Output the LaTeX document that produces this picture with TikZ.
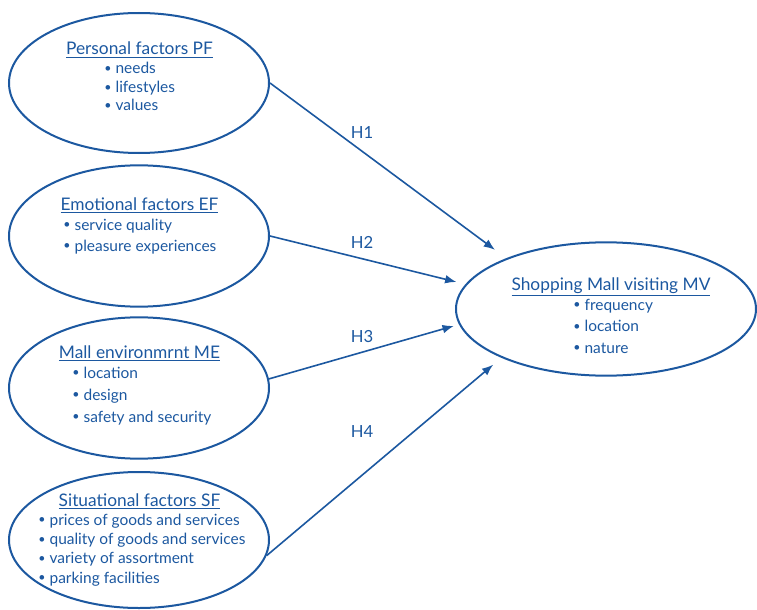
\documentclass[tikz,border=0pt]{standalone}
\usepackage{fontspec}
\setmainfont{Lato}
\usepackage{tikz}
\usetikzlibrary{shapes.geometric,arrows.meta}

\definecolor{mallblue}{RGB}{28,88,160}
\newcommand{\bul}{\makebox[8.5pt][l]{\raisebox{1pt}{\scalebox{0.8}{•}}}}

\begin{document}
\begin{tikzpicture}[x=0.75pt,y=-0.75pt,
    factor/.style={ellipse, draw=mallblue, line width=1.5pt, minimum width=195pt},
    title/.style={text=mallblue, inner sep=0pt, anchor=base, font=\fontsize{13}{15}\selectfont},
    items/.style={text=mallblue, inner sep=0pt, anchor=base west, align=left},
    hyp/.style={-{Latex[length=8.5pt,width=6.5pt]}, draw=mallblue, line width=1.2pt},
    hlabel/.style={text=mallblue, font=\fontsize{12.5}{14}\selectfont}]

    \useasboundingbox (0,0) rectangle (757,610);

	%% Draw ovals
    \node[factor, minimum height=105pt] (pf) at (139,83)  {};
    \node[factor, minimum height=106pt] (ef) at (139,236) {};
    \node[factor, minimum height=106pt] (me) at (139,388) {};
    \node[factor, minimum height=102pt] (sf) at (139,540) {};
    \node[factor, minimum width=225pt, minimum height=100pt] (mv) at (606,309) {};

	%% Draw text in ovals (items anchored at the baseline of their last line)
    \node[title] (pftitle) at (139.5,55)  {\underline{Personal factors PF}};
    \node[items, font=\fontsize{11.6}{13.9}\selectfont] (pfitems) at (104,111)
        {\bul needs\\ \bul lifestyles\\ \bul values};

    \node[title] (eftitle) at (139.5,210) {\underline{Emotional factors EF}};
    \node[items, font=\fontsize{11.6}{15.75}\selectfont] (efitems) at (63,251)
        {\bul service quality\\ \bul pleasure experiences};

    \node[title] (metitle) at (139.5,358) {\underline{Mall environmrnt ME}};
    \node[items, font=\fontsize{11.6}{16.5}\selectfont] (meitems) at (72,422)
        {\bul location\\ \bul design\\ \bul safety and security};

    \node[title] (sftitle) at (139.5,506) {\underline{Situational factors SF}};
    \node[items, font=\fontsize{11.6}{14.5}\selectfont] (sfitems) at (38,583)
        {\bul prices of goods and services\\ \bul quality of goods and services\\
         \bul variety of assortment\\ \bul parking facilities};

    \node[title] (mvtitle) at (611,290) {\underline{Shopping Mall visiting MV}};
    \node[items, font=\fontsize{11.6}{16.1}\selectfont] (mvitems) at (573,353)
        {\bul frequency\\ \bul location\\ \bul nature};

	%% Draw hypotheses
    \draw[hyp, shorten >=10.5pt] (pf.east) -- (mv.153.6);
    \draw[hyp, shorten >=7pt]    (ef.east) -- (mv.170.1);
    \draw[hyp, shorten >=4pt]    (me.4)    -- (mv.186.4);
    \draw[hyp, shorten >=8pt]    (sf.-7)   -- (mv.205.1);

    \node[hlabel] (h1) at (362,133) {H1};
    \node[hlabel] (h2) at (362,242) {H2};
    \node[hlabel] (h3) at (362,337) {H3};
    \node[hlabel] (h4) at (362,432) {H4};
\end{tikzpicture}
\end{document}
